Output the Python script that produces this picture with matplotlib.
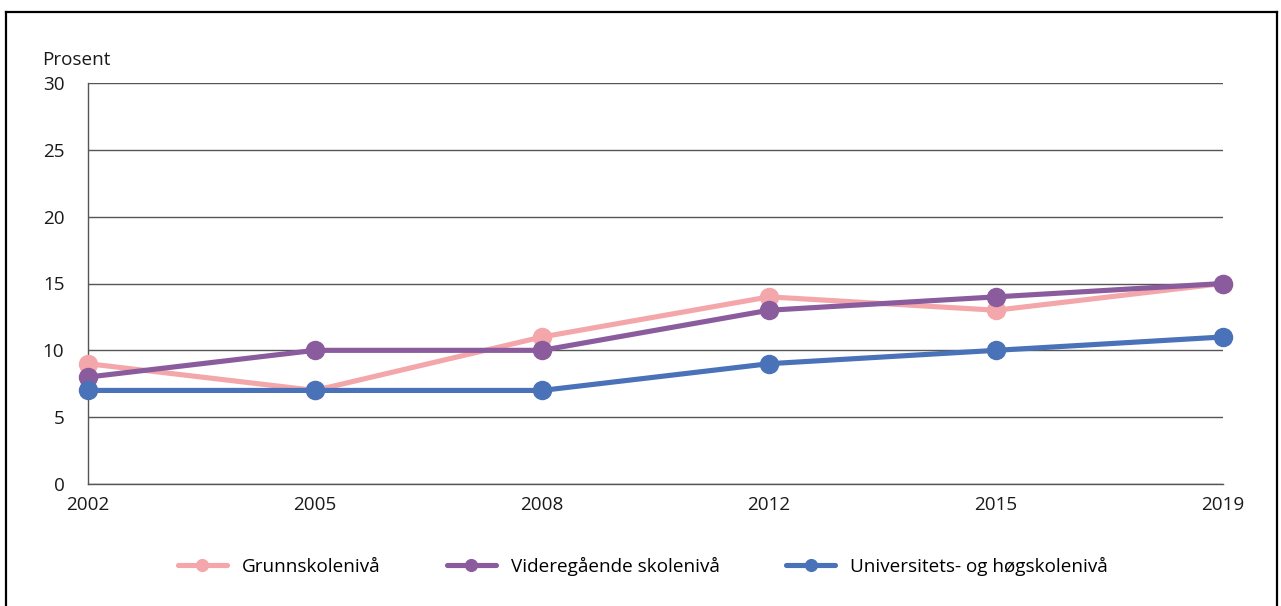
import matplotlib.pyplot as plt
from matplotlib.lines import Line2D

plt.rcParams['font.family'] = ['Open Sans', 'DejaVu Sans']

years = ['2002', '2005', '2008', '2012', '2015', '2019']
grunnskole = [9, 7, 11, 14, 13, 15]
videregaende = [8, 10, 10, 13, 14, 15]
universitet = [7, 7, 7, 9, 10, 11]
labels = ['Grunnskolenivå', 'Videregående skolenivå', 'Universitets- og høgskolenivå']
colors = ['#F4A7AA', '#8A5C9E', '#4A72B8']

FS = 13.6


def main():
	fig = plt.figure(figsize=(12.81, 6.06), dpi=100)
	ax = fig.add_axes([88 / 1281, 1 - 484 / 606, (1223 - 88) / 1281, (484 - 83) / 606])

	# frame around the whole figure (bottom edge is cut off in the original)
	x0, x1, ytop = 5.5 / 1281, 1276.5 / 1281, 1 - 11.5 / 606
	for xs, ys in [([x0, x0], [0, ytop]), ([x0, x1], [ytop, ytop]), ([x1, x1], [ytop, 0])]:
		fig.add_artist(Line2D(xs, ys, transform=fig.transFigure, color='black', lw=1.6))

	xs = range(len(years))
	for vals, lab, col in zip([grunnskole, videregaende, universitet], labels, colors):
		ax.plot(xs, vals, color=col, lw=3.7, marker='o', ms=13, label=lab,
			solid_capstyle='round', clip_on=False, zorder=3)

	ax.set_xlim(0, len(years) - 1)
	ax.set_ylim(0, 30)
	ax.set_yticks(range(0, 31, 5))
	ax.set_xticks(list(xs))
	ax.set_xticklabels(years)
	ax.yaxis.grid(True, color='#555555', lw=1.0)
	ax.set_axisbelow(True)
	ax.tick_params(length=0, labelsize=FS, colors='#1a1a1a')
	ax.tick_params(axis='y', pad=17)
	ax.tick_params(axis='x', pad=9)
	for s in ['top', 'right']:
		ax.spines[s].set_visible(False)
	for s in ['left', 'bottom']:
		ax.spines[s].set_color('#555555')
		ax.spines[s].set_linewidth(1.0)

	fig.text(42 / 1281, 1 - 60 / 606, 'Prosent', fontsize=FS, color='#1a1a1a', va='center')

	fig.legend(loc='center', bbox_to_anchor=(643 / 1281, 1 - 566 / 606), ncol=3,
		frameon=False, fontsize=FS, handlelength=2.6, handletextpad=0.8,
		columnspacing=3.5, markerscale=0.65)

	fig.savefig('out.png', dpi=100)


if __name__ == '__main__':
	main()
